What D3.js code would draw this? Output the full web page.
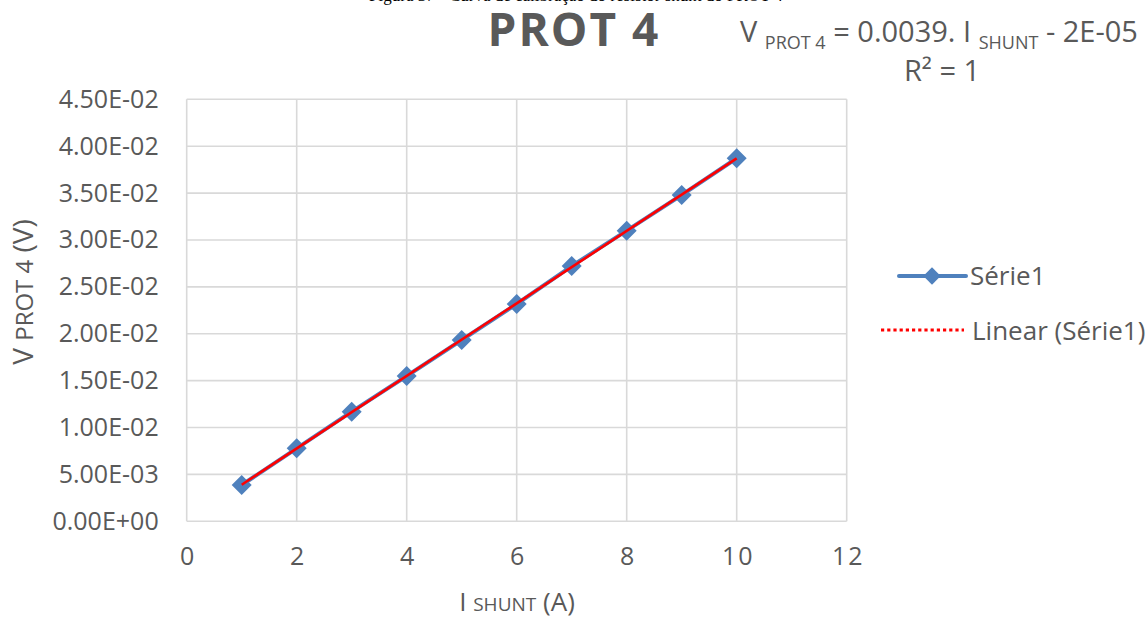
<!DOCTYPE html>
<html>
<head>
<meta charset="utf-8">
<script src="https://cdn.jsdelivr.net/npm/d3@7"></script>
<style>
  html, body { margin: 0; padding: 0; background: #fff; }
  svg { display: block; font-family: "Open Sans", "Noto Sans", sans-serif; }
</style>
</head>
<body>
<svg id="chart" width="1146" height="618"></svg>
<script>
// Calibration data: shunt current (A) vs. PROT 4 voltage (V)
const currents = [1, 2, 3, 4, 5, 6, 7, 8, 9, 10];
const voltages = [0.00387, 0.00778, 0.01169, 0.01549, 0.01933, 0.02317, 0.02722, 0.03099, 0.03479, 0.03871];
const xTicks = [0, 2, 4, 6, 8, 10, 12];
const yTicks = [0, 0.005, 0.01, 0.015, 0.02, 0.025, 0.03, 0.035, 0.04, 0.045];
const seriesName = "Série1";
const trendName = "Linear (Série1)";

const svg = d3.select("#chart");
const textGray = "#595959";
const gridGray = "#d9d9d9";
const blue = "#4f81bd";
const red = "#ff0000";

const plot = { left: 186.7, right: 846.7, top: 99.3, bottom: 521.3 };

const x = d3.scaleLinear().domain([0, 12]).range([plot.left, plot.right]);
const y = d3.scaleLinear().domain([0, 0.045]).range([plot.bottom, plot.top]);

// Caption line above the chart (runs off the top edge)
svg.append("text")
  .attr("x", 576).attr("y", 1)
  .attr("text-anchor", "middle")
  .attr("font-family", "Liberation Serif, serif")
  .attr("font-size", 17)
  .attr("fill", "#000")
  .text("Figura 37 - Curva de calibração do resistor shunt do PROT 4");

// Gridlines
const grid = svg.append("g").attr("stroke", gridGray).attr("stroke-width", 1.6);
grid.selectAll("line.h").data(yTicks).join("line")
  .attr("x1", plot.left).attr("x2", plot.right)
  .attr("y1", d => y(d)).attr("y2", d => y(d));
grid.selectAll("line.v").data(xTicks).join("line")
  .attr("y1", plot.top).attr("y2", plot.bottom)
  .attr("x1", d => x(d)).attr("x2", d => x(d));

// Axes (tick labels only; lines are the gridlines)
const fmtY = d => d.toExponential(2).replace(/e([+-])(\d)$/, "E$10$2").replace(/e/, "E");
const yAxis = d3.axisLeft(y).tickValues(yTicks).tickSize(0).tickPadding(28).tickFormat(fmtY);
const gy = svg.append("g").attr("transform", `translate(${plot.left},0)`).call(yAxis);
const xAxis = d3.axisBottom(x).tickValues(xTicks).tickSize(0).tickPadding(26).tickFormat(d3.format("d"));
const gx = svg.append("g").attr("transform", `translate(0,${plot.bottom})`).call(xAxis);
[gy, gx].forEach(g => {
  g.select(".domain").remove();
  g.selectAll("text").attr("fill", textGray).attr("font-size", 25)
    .attr("font-family", "\"Open Sans\", sans-serif");
});
gx.selectAll("text").attr("letter-spacing", 2).attr("dx", 1);

// Data series line + diamond markers
const line = d3.line().x((d, i) => x(currents[i])).y(d => y(d));
svg.append("path").datum(voltages)
  .attr("d", line).attr("fill", "none")
  .attr("stroke", blue).attr("stroke-width", 4).attr("stroke-linejoin", "round");

const diamond = d3.symbol().type(d3.symbolSquare).size(200);
svg.append("g").selectAll("path").data(voltages).join("path")
  .attr("d", diamond)
  .attr("fill", blue)
  .attr("transform", (d, i) => `translate(${x(currents[i])},${y(d)}) rotate(45)`);

// Least-squares trendline
const mx = d3.mean(currents), my = d3.mean(voltages);
const slope = d3.sum(currents, (c, i) => (c - mx) * (voltages[i] - my)) / d3.sum(currents, c => (c - mx) ** 2);
const intercept = my - slope * mx;
const trendX = d3.extent(currents);
svg.append("line")
  .attr("x1", x(trendX[0])).attr("y1", y(slope * trendX[0] + intercept))
  .attr("x2", x(trendX[1])).attr("y2", y(slope * trendX[1] + intercept))
  .attr("stroke", red).attr("stroke-width", 2.6);

// Title
svg.append("text")
  .attr("x", 574).attr("y", 46)
  .attr("text-anchor", "middle")
  .attr("font-size", 46).attr("font-weight", "bold")
  .attr("letter-spacing", 2)
  .attr("fill", textGray)
  .text("PROT 4");

// Trendline equation
const eq = svg.append("text").attr("x", 740).attr("y", 42)
  .attr("font-size", 29).attr("fill", textGray);
eq.append("tspan").text("V ");
eq.append("tspan").attr("font-size", 18).attr("dy", 7).text("PROT 4");
eq.append("tspan").attr("dy", -7).text(" = " + slope.toFixed(4) + ". I ");
eq.append("tspan").attr("font-size", 18).attr("dy", 7).text("SHUNT");
eq.append("tspan").attr("dy", -7).text(" - 2E-05");

svg.append("text").attr("x", 942).attr("y", 81).attr("text-anchor", "middle")
  .attr("font-size", 29).attr("fill", textGray).text("R² = 1");

// Axis titles
const xt = svg.append("text").attr("x", 517).attr("y", 611).attr("text-anchor", "middle")
  .attr("font-size", 26).attr("fill", textGray);
xt.append("tspan").text("I  ");
xt.append("tspan").attr("font-size", 19).text("SHUNT");
xt.append("tspan").text(" (A)");

const yt = svg.append("text").attr("transform", "translate(33,292) rotate(-90)")
  .attr("text-anchor", "middle").attr("font-size", 28).attr("fill", textGray);
yt.append("tspan").text("V ");
yt.append("tspan").attr("font-size", 24).text("PROT 4");
yt.append("tspan").text(" (V)");

// Legend
const lg = svg.append("g");
lg.append("line").attr("x1", 899).attr("x2", 966).attr("y1", 276).attr("y2", 276)
  .attr("stroke", blue).attr("stroke-width", 4).attr("stroke-linecap", "round");
lg.append("path").attr("d", d3.symbol().type(d3.symbolSquare).size(150))
  .attr("fill", blue).attr("transform", "translate(932,276) rotate(45)");
lg.append("text").attr("x", 970).attr("y", 285).attr("font-size", 26).attr("fill", textGray).text(seriesName);
lg.append("line").attr("x1", 881).attr("x2", 964).attr("y1", 330).attr("y2", 330)
  .attr("stroke", red).attr("stroke-width", 3.2).attr("stroke-dasharray", "3.2,3");
lg.append("text").attr("x", 972).attr("y", 340).attr("font-size", 26).attr("fill", textGray).text(trendName);
</script>
</body>
</html>
